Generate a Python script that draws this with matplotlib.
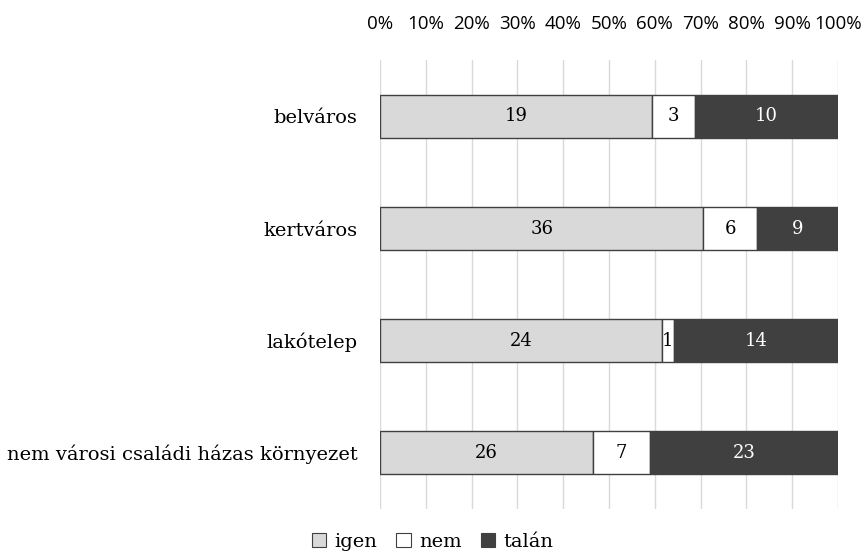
import matplotlib
matplotlib.use("Agg")
import matplotlib.pyplot as plt
import numpy as np
from matplotlib.patches import Patch

categories = ["belváros", "kertváros", "lakótelep", "nem városi családi házas környezet"]
igen = [19, 36, 24, 26]
nem = [3, 6, 1, 7]
talan = [10, 9, 14, 23]
series_names = ["igen", "nem", "talán"]
colors = ["#D9D9D9", "#FFFFFF", "#404040"]
text_colors = ["#000000", "#000000", "#FFFFFF"]
tick_labels = [f"{p}%" for p in range(0, 101, 10)]

serif = ["DejaVu Serif"]

fig = plt.figure(figsize=(8.65, 5.52), dpi=100)
ax = fig.add_axes([0.4393, 0.0788, 0.5295, 0.8116])

data = np.array([igen, nem, talan], dtype=float)
totals = data.sum(axis=0)
shares = data / totals
y = np.arange(len(categories))
left = np.zeros(len(categories))
for i in range(3):
    ax.barh(y, shares[i], left=left, height=0.385, color=colors[i],
            edgecolor="#404040", linewidth=1.0, zorder=3)
    for j in range(len(categories)):
        ax.text(left[j] + shares[i][j] / 2, y[j], str(int(data[i][j])),
                ha="center", va="center", fontsize=13, color=text_colors[i],
                family=serif, zorder=4)
    left += shares[i]

ax.set_xlim(0, 1)
ax.set_ylim(3.5, -0.5)
ax.set_yticks(y)
ax.set_yticklabels(categories, family=serif, fontsize=14)
ax.set_xticks(np.linspace(0, 1, 11))
ax.set_xticklabels(tick_labels, fontsize=13.5, family=["Open Sans", "DejaVu Sans"])
ax.xaxis.tick_top()
ax.tick_params(axis="both", length=0)
ax.tick_params(axis="x", pad=20)
ax.tick_params(axis="y", pad=16)
ax.grid(axis="x", color="#D9D9D9", linewidth=1, zorder=0)
for s in ax.spines.values():
    s.set_visible(False)

handles = [Patch(facecolor=c, edgecolor="#404040", linewidth=0.8) for c in colors]
fig.legend(handles, series_names, loc="lower center", bbox_to_anchor=(0.5, -0.03),
           ncol=3, frameon=False, prop={"family": serif, "size": 14},
           handlelength=0.75, handleheight=0.75, handletextpad=0.4, columnspacing=1.0)

fig.savefig("out.png", dpi=100)
